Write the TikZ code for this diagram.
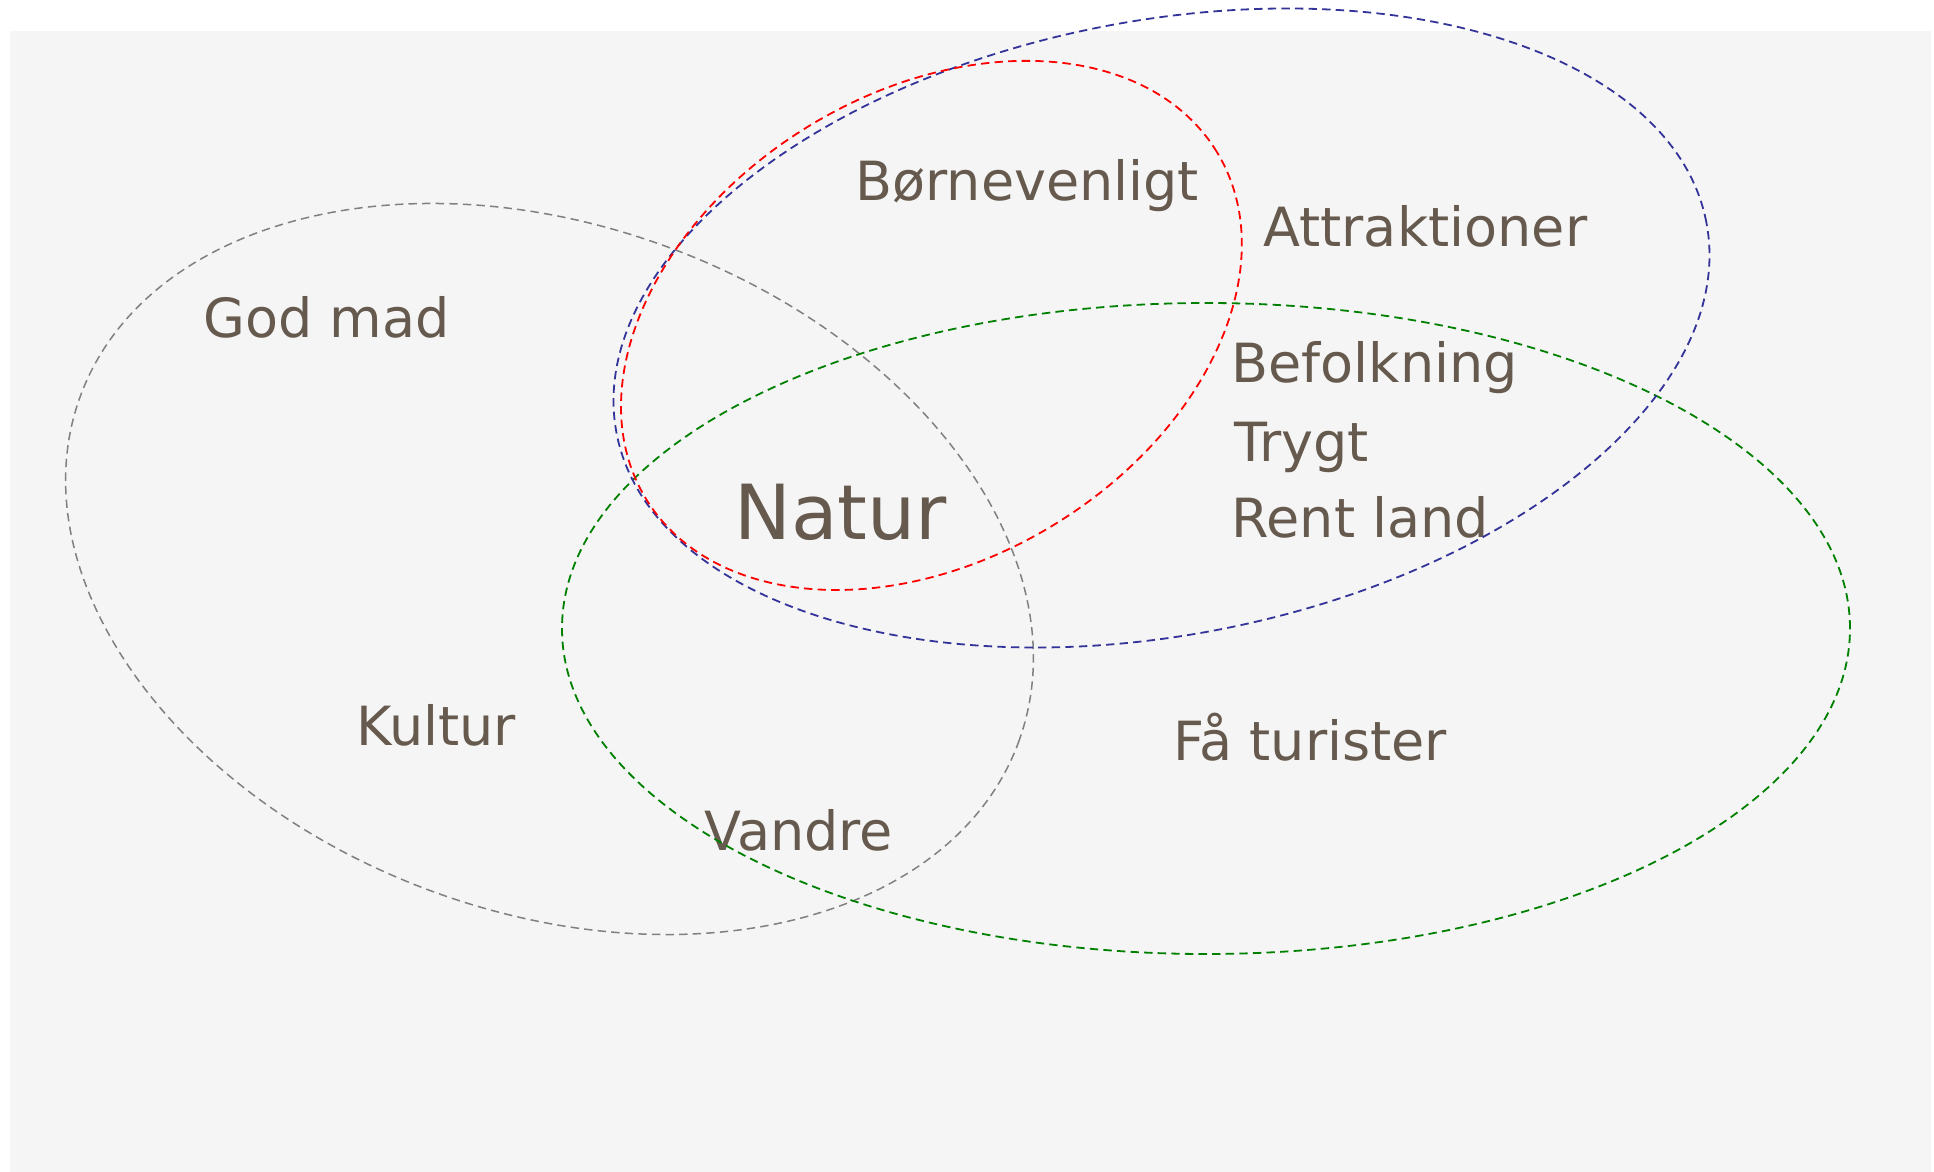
\documentclass[tikz,border=0pt]{standalone}
\usepackage{fontspec}
\setmainfont{DejaVu Sans}
\usetikzlibrary{positioning}

\definecolor{labelbrown}{HTML}{665A4E}
\definecolor{paper}{HTML}{F5F5F5}
\definecolor{setgray}{HTML}{808080}
\definecolor{setblue}{HTML}{333399}
\definecolor{setred}{HTML}{FF0000}
\definecolor{setgreen}{HTML}{008000}

\begin{document}
\begin{tikzpicture}[x=0.5pt, y=0.5pt,
labelnode/.style={inner sep=0pt, anchor=base west, text=labelbrown, font=\fontsize{27}{32}\selectfont},
bignode/.style={labelnode, font=\fontsize{38}{45}\selectfont},
setline/.style={dash pattern=on 4.2pt off 2.6pt, line width=0.9pt},
]
\useasboundingbox (0,0) rectangle (1934,-1172);
\fill[paper] (10,-31) rectangle (1931,-1172);

%Centres
\coordinate (food)     at (549.5,-569);
\coordinate (fun)      at (1161.5,-328);
\coordinate (kids)     at (931.5,-325.4);
\coordinate (quiet)    at (1206,-628.5);

%Nodes
\node[labelnode] (GodMad)       at (203,-337)  {God mad};
\node[labelnode] (Boern)        at (855,-200)  {Børnevenligt};
\node[labelnode] (Attraktioner) at (1263,-246) {Attraktioner};
\node[labelnode] (Befolkning)   at (1231,-382) {Befolkning};
\node[labelnode] (Trygt)        at (1234,-461) {Trygt};
\node[labelnode] (RentLand)     at (1231,-537) {Rent land};
\node[bignode]   (Natur)        at (734,-539)  {Natur};
\node[labelnode] (Kultur)       at (356,-745)  {Kultur};
\node[labelnode] (Vandre)       at (704,-850)  {Vandre};
\node[labelnode] (FaaTurister)  at (1173,-760) {Få turister};

%Sets
\draw[setline, setgray, line width=0.75pt, rotate around={-20.3:(food)}] (food) ellipse [x radius=500, y radius=343];
\draw[setline, setgreen] (quiet) ellipse [x radius=644, y radius=325.5];
\draw[setline, setblue, rotate around={11:(fun)}] (fun) ellipse [x radius=555, y radius=307];
\draw[setline, setred, rotate around={31.2:(kids)}] (kids) ellipse [x radius=334, y radius=234];

\end{tikzpicture}
\end{document}
